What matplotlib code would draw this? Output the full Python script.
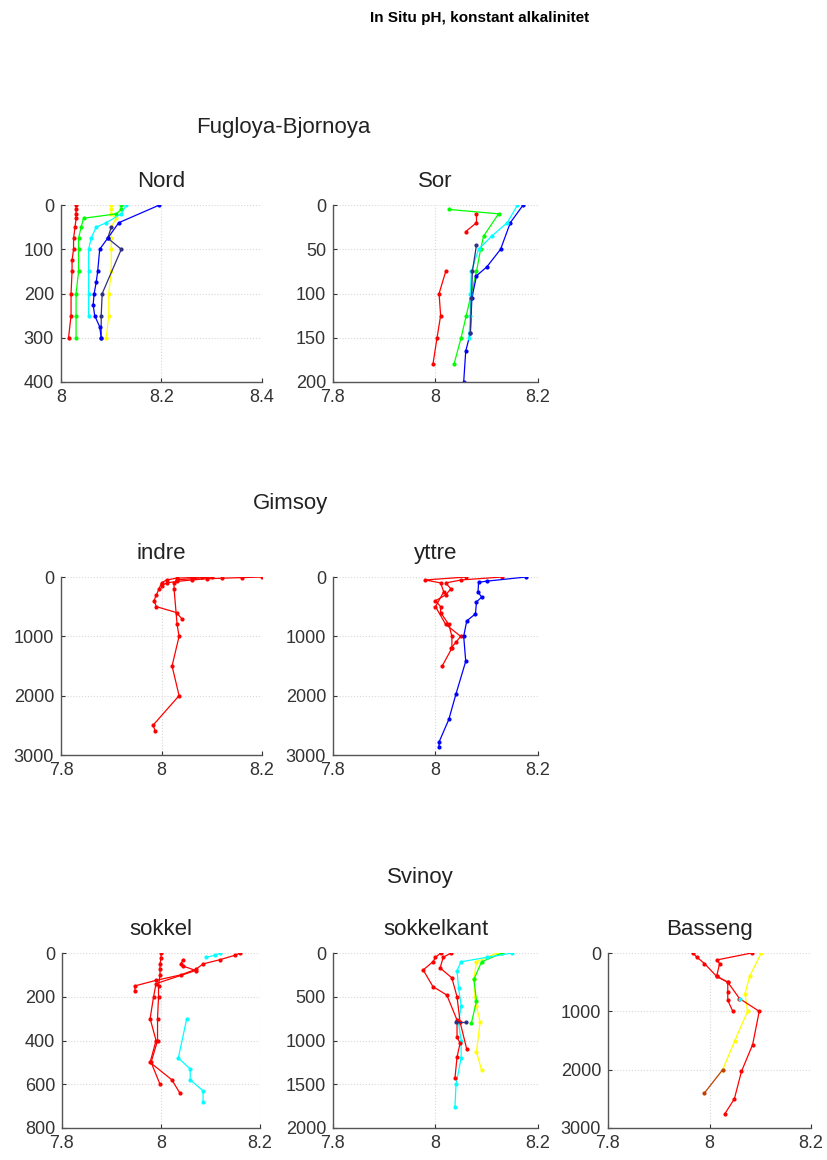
import matplotlib
matplotlib.use('Agg')
import matplotlib.pyplot as plt
import numpy as np

plt.rcParams['font.family'] = ['Liberation Sans', 'DejaVu Sans']

# ---- Fugloya-Bjornoya, Nord ----
nord_red_d = [0, 10, 20, 30, 50, 75, 100, 125, 150, 200, 250, 300]
nord_red_ph = [8.03, 8.03, 8.03, 8.03, 8.028, 8.025, 8.025, 8.022, 8.022, 8.02, 8.02, 8.015]
nord_grn_d = [0, 10, 20, 30, 50, 75, 100, 150, 200, 250, 300]
nord_grn_ph = [8.12, 8.12, 8.11, 8.045, 8.04, 8.035, 8.035, 8.035, 8.03, 8.03, 8.03]
nord_cyn_d = [0, 20, 40, 50, 75, 100, 150, 200, 250]
nord_cyn_ph = [8.13, 8.12, 8.09, 8.07, 8.06, 8.055, 8.055, 8.055, 8.055]
nord_yel_d = [0, 10, 20, 30, 50, 75, 100, 150, 200, 250, 300]
nord_yel_ph = [8.1, 8.1, 8.1, 8.11, 8.1, 8.1, 8.1, 8.1, 8.095, 8.095, 8.09]
nord_blu_d = [0, 40, 75, 100, 150, 175, 200, 225, 250, 275, 300]
nord_blu_ph = [8.196, 8.115, 8.093, 8.077, 8.073, 8.07, 8.066, 8.064, 8.067, 8.077, 8.08]
nord_nvy_d = [50, 75, 100, 200, 250, 300]
nord_nvy_ph = [8.1, 8.093, 8.12, 8.082, 8.08, 8.08]

# ---- Fugloya-Bjornoya, Sor ----
sor_red1_d = [10, 20, 30]
sor_red1_ph = [8.08, 8.08, 8.059]
sor_red2_d = [75, 100, 125, 150, 180]
sor_red2_ph = [8.02, 8.007, 8.01, 8.003, 7.995]
sor_grn_d = [5, 10, 35, 50, 75, 100, 125, 150, 180]
sor_grn_ph = [8.026, 8.123, 8.094, 8.088, 8.08, 8.07, 8.06, 8.05, 8.036]
sor_cyn_d = [0, 20, 35, 50, 75, 100, 125, 150]
sor_cyn_ph = [8.16, 8.14, 8.11, 8.084, 8.07, 8.068, 8.068, 8.065]
sor_blu_d = [0, 20, 50, 70, 80, 105, 145, 165, 200]
sor_blu_ph = [8.171, 8.146, 8.127, 8.10, 8.08, 8.071, 8.068, 8.059, 8.055]
sor_nvy_d = [45, 75, 105, 145]
sor_nvy_ph = [8.08, 8.072, 8.07, 8.068]

# ---- Gimsoy, indre ----
ind_a_d = [0, 10, 20, 30, 50, 75, 100, 150]
ind_a_ph = [8.2, 8.16, 8.12, 8.09, 8.06, 8.03, 8.01, 8.0]
ind_b_d = [0, 10, 20, 50, 100, 200, 300, 400, 500, 600, 700]
ind_b_ph = [8.08, 8.06, 8.03, 8.01, 8.0, 7.995, 7.99, 7.985, 7.99, 8.03, 8.04]
ind_c_d = [0, 50, 100, 200, 800, 1000, 1500, 2000, 2500, 2600]
ind_c_ph = [8.1, 8.03, 8.025, 8.025, 8.031, 8.035, 8.021, 8.035, 7.983, 7.988]

# ---- Gimsoy, yttre ----
ytt_blu_d = [0, 70, 90, 250, 340, 420, 620, 740, 1000, 1420, 1970, 2400, 2780, 2870]
ytt_blu_ph = [8.177, 8.10, 8.084, 8.083, 8.09, 8.08, 8.078, 8.061, 8.055, 8.059, 8.04, 8.026, 8.007, 8.007]
ytt_r1_d = [0, 50, 100, 200, 300, 400, 500, 600, 800, 1000, 1200, 1500]
ytt_r1_ph = [8.13, 8.05, 8.02, 8.03, 8.02, 8.0, 8.01, 8.01, 8.026, 8.032, 8.032, 8.013]
ytt_r2_d = [0, 50, 100, 250, 500, 800, 1000, 1100, 1200]
ytt_r2_ph = [8.06, 7.98, 8.01, 8.016, 8.0, 8.02, 8.049, 8.04, 8.03]

# ---- Svinoy, sokkel ----
sok_r1_d = [0, 25, 50, 75, 100, 150, 200, 300, 400, 500, 600]
sok_r1_ph = [8.0, 8.0, 7.998, 7.998, 7.998, 7.995, 7.995, 7.993, 7.993, 7.98, 7.998]
sok_r2_d = [0, 10, 30, 50, 75, 100, 125, 150, 175]
sok_r2_ph = [8.16, 8.15, 8.12, 8.085, 8.07, 8.04, 7.99, 7.948, 7.947]
sok_r3_d = [30, 50, 60, 80, 140, 200, 300, 400, 500, 580, 640]
sok_r3_ph = [8.045, 8.04, 8.045, 8.07, 7.99, 7.985, 7.978, 7.99, 7.978, 8.022, 8.038]
sok_c1_d = [0, 10, 20]
sok_c1_ph = [8.12, 8.11, 8.09]
sok_c2_d = [300, 480, 530, 580, 630, 680]
sok_c2_ph = [8.052, 8.035, 8.059, 8.059, 8.085, 8.085]

# ---- Svinoy, sokkelkant ----
skk_r1_d = [0, 50, 100, 194, 384, 480, 766, 960, 1030, 1190, 1430]
skk_r1_ph = [8.01, 8.0, 7.995, 7.976, 7.995, 8.022, 8.042, 8.042, 8.048, 8.042, 8.038]
skk_r2_d = [0, 50, 171, 285, 500, 790, 1100]
skk_r2_ph = [8.03, 8.015, 8.009, 8.032, 8.042, 8.048, 8.061]
skk_cyn_d = [0, 50, 100, 200, 400, 600, 800, 1000, 1200, 1500, 1760]
skk_cyn_ph = [8.15, 8.1, 8.05, 8.042, 8.045, 8.05, 8.045, 8.05, 8.05, 8.04, 8.038]
skk_yel_d = [0, 100, 300, 500, 600, 790, 1130, 1340]
skk_yel_ph = [8.12, 8.08, 8.075, 8.077, 8.08, 8.087, 8.08, 8.09]
skk_grn_d = [0, 100, 300, 550, 800]
skk_grn_ph = [8.13, 8.09, 8.075, 8.08, 8.07]
skk_nvy_d = [790, 790]
skk_nvy_ph = [8.04, 8.06]

# ---- Svinoy, Basseng ----
bas_r1_d = [0, 70, 180, 400, 500, 670, 810, 1000]
bas_r1_ph = [7.967, 7.975, 7.99, 8.014, 8.036, 8.036, 8.036, 8.046]
bas_r2_d = [0, 120, 180, 400, 500, 780, 1000, 1570, 2030, 2500, 2760]
bas_r2_ph = [8.083, 8.014, 8.02, 8.014, 8.036, 8.059, 8.098, 8.085, 8.063, 8.049, 8.03]
bas_yel_d = [0, 400, 700, 1000, 1500, 2000]
bas_yel_ph = [8.102, 8.079, 8.07, 8.075, 8.05, 8.026]
bas_brn_d = [2000, 2400]
bas_brn_ph = [8.026, 7.99]
bas_cyn_d = [780]
bas_cyn_ph = [8.06]

RED, GRN, CYN, YEL, BLU, NVY, BRN = '#ff0000', '#00ff00', '#00ffff', '#ffff00', '#0000ff', '#303080', '#c04000'

W, H = 827, 1160
fig = plt.figure(figsize=(W / 100, H / 100), dpi=100)

def make_ax(left, top, right, bottom, xlim, xticks, ylim, yticks, title):
    ax = fig.add_axes([left / W, 1 - bottom / H, (right - left) / W, (bottom - top) / H])
    ax.set_xlim(xlim)
    ax.set_ylim(ylim[1], ylim[0])
    ax.set_xticks(xticks)
    ax.set_xticklabels([('%g' % t) for t in xticks])
    ax.set_yticks(yticks)
    ax.grid(True, color='#d8d8d8', linestyle=':', linewidth=0.8)
    ax.set_axisbelow(True)
    for s in ['top', 'right']:
        ax.spines[s].set_visible(False)
    for s in ['left', 'bottom']:
        ax.spines[s].set_color('#555555')
        ax.spines[s].set_linewidth(1.0)
    ax.tick_params(direction='in', length=3, labelsize=13, colors='#333333', pad=5)
    ax.set_title(title, fontsize=16, pad=13, color='#222222')
    return ax

def prof(ax, ph, d, c, lw=0.9):
    ax.plot(ph, d, '.-', color=c, lw=lw, ms=4)

# row 1
ax = make_ax(61, 205, 262, 382, (8.0, 8.4), [8.0, 8.2, 8.4], (0, 400), [0, 100, 200, 300, 400], 'Nord')
prof(ax, nord_yel_ph, nord_yel_d, YEL)
prof(ax, nord_grn_ph, nord_grn_d, GRN)
prof(ax, nord_cyn_ph, nord_cyn_d, CYN)
prof(ax, nord_red_ph, nord_red_d, RED)
prof(ax, nord_nvy_ph, nord_nvy_d, NVY)
prof(ax, nord_blu_ph, nord_blu_d, BLU)

ax = make_ax(333, 205, 538, 382, (7.8, 8.2), [7.8, 8.0, 8.2], (0, 200), [0, 50, 100, 150, 200], 'Sor')
prof(ax, sor_red1_ph, sor_red1_d, RED)
prof(ax, sor_red2_ph, sor_red2_d, RED)
prof(ax, sor_grn_ph, sor_grn_d, GRN)
prof(ax, sor_blu_ph, sor_blu_d, BLU)
prof(ax, sor_cyn_ph, sor_cyn_d, CYN)
prof(ax, sor_nvy_ph, sor_nvy_d, NVY)

# row 2
ax = make_ax(61, 577, 262, 755, (7.8, 8.2), [7.8, 8.0, 8.2], (0, 3000), [0, 1000, 2000, 3000], 'indre')
prof(ax, ind_a_ph, ind_a_d, RED)
prof(ax, ind_b_ph, ind_b_d, RED)
prof(ax, ind_c_ph, ind_c_d, RED)

ax = make_ax(333, 577, 538, 755, (7.8, 8.2), [7.8, 8.0, 8.2], (0, 3000), [0, 1000, 2000, 3000], 'yttre')
prof(ax, ytt_r1_ph, ytt_r1_d, RED)
prof(ax, ytt_r2_ph, ytt_r2_d, RED)
prof(ax, ytt_blu_ph, ytt_blu_d, BLU)

# row 3
ax = make_ax(62, 953, 260, 1128, (7.8, 8.2), [7.8, 8.0, 8.2], (0, 800), [0, 200, 400, 600, 800], 'sokkel')
prof(ax, sok_c1_ph, sok_c1_d, CYN)
prof(ax, sok_c2_ph, sok_c2_d, CYN)
prof(ax, sok_r1_ph, sok_r1_d, RED)
prof(ax, sok_r2_ph, sok_r2_d, RED)
prof(ax, sok_r3_ph, sok_r3_d, RED)

ax = make_ax(333, 953, 538, 1128, (7.8, 8.2), [7.8, 8.0, 8.2], (0, 2000), [0, 500, 1000, 1500, 2000], 'sokkelkant')
prof(ax, skk_yel_ph, skk_yel_d, YEL)
prof(ax, skk_grn_ph, skk_grn_d, GRN)
prof(ax, skk_cyn_ph, skk_cyn_d, CYN)
prof(ax, skk_r1_ph, skk_r1_d, RED)
prof(ax, skk_r2_ph, skk_r2_d, RED)
prof(ax, skk_nvy_ph, skk_nvy_d, NVY)

ax = make_ax(608, 953, 811, 1128, (7.8, 8.2), [7.8, 8.0, 8.2], (0, 3000), [0, 1000, 2000, 3000], 'Basseng')
prof(ax, bas_yel_ph, bas_yel_d, YEL)
prof(ax, bas_brn_ph, bas_brn_d, BRN)
prof(ax, bas_r1_ph, bas_r1_d, RED)
prof(ax, bas_r2_ph, bas_r2_d, RED)
prof(ax, bas_cyn_ph, bas_cyn_d, CYN)

# headings
fig.text(480 / W, 1 - 18 / H, 'In Situ pH, konstant alkalinitet', ha='center', va='center',
         fontsize=11, fontweight='bold')
fig.text(283 / W, 1 - 128 / H, 'Fugloya-Bjornoya', ha='center', va='center', fontsize=16, color='#222222')
fig.text(290 / W, 1 - 503 / H, 'Gimsoy', ha='center', va='center', fontsize=16, color='#222222')
fig.text(420 / W, 1 - 877 / H, 'Svinoy', ha='center', va='center', fontsize=16, color='#222222')

fig.savefig('out.png', dpi=100)
